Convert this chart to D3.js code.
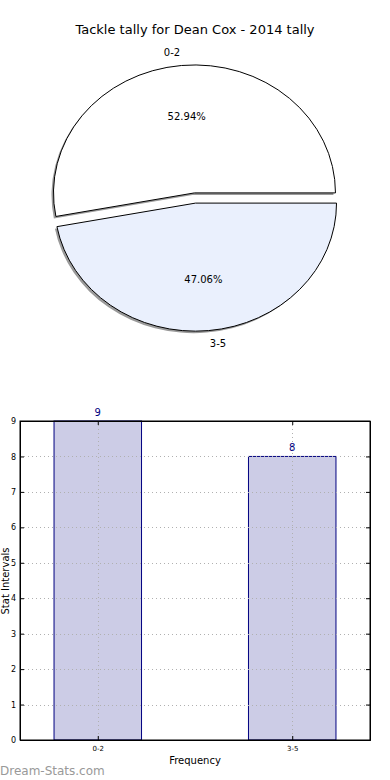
<!DOCTYPE html>
<html>
<head>
<meta charset="utf-8">
<script src="https://cdn.jsdelivr.net/npm/d3@7"></script>
<style>
  body { margin: 0; background: #fff; }
  svg { display: block; font-family: "DejaVu Sans", sans-serif; }
</style>
</head>
<body>
<svg width="390" height="780"></svg>
<script>
// Data
var categories = ["0-2", "3-5"];
var counts = [9, 8];
var yTicks = [0, 1, 2, 3, 4, 5, 6, 7, 8, 9];
var sliceColors = ["#ffffff", "#eaf0fd"];

var svg = d3.select("svg"),
  width = +svg.attr("width"),
  height = +svg.attr("height");

var total = d3.sum(counts);

// Title
svg.append("text")
  .attr("x", width / 2)
  .attr("y", 34)
  .attr("text-anchor", "middle")
  .style("font-size", "13px")
  .text("Tackle tally for Dean Cox - 2014 tally");

// Pie (squashed like the original axes)
var cx = 195, cy = 198, rx = 141, ry = 128, explode = 0.04;

// matplotlib starts at 3 o'clock and goes counter-clockwise
var pie = d3.pie().sort(null)
  .startAngle(Math.PI / 2)
  .endAngle(Math.PI / 2 - 2 * Math.PI);
var arcs = pie(counts);

var arc = d3.arc().innerRadius(0).outerRadius(1);
var labelArc = d3.arc().innerRadius(1.1).outerRadius(1.1);
var pctArc = d3.arc().innerRadius(0.6).outerRadius(0.6);
var offArc = d3.arc().innerRadius(explode).outerRadius(explode);

var pieG = svg.append("g").attr("transform", "translate(" + cx + "," + cy + ")");

function shift(d) {
  var c = offArc.centroid(d);
  return [c[0] * rx, c[1] * ry];
}

// shadows
pieG.selectAll("path.shadow")
  .data(arcs).enter().append("path")
  .attr("class", "shadow")
  .attr("d", arc)
  .attr("transform", function (d) {
    var s = shift(d);
    return "translate(" + (s[0] - 2) + "," + (s[1] + 2) + ") scale(" + rx + "," + ry + ")";
  })
  .attr("fill", "#9a9a9a");

pieG.selectAll("path.slice")
  .data(arcs).enter().append("path")
  .attr("class", "slice")
  .attr("d", arc)
  .attr("transform", function (d) {
    var s = shift(d);
    return "translate(" + s[0] + "," + s[1] + ") scale(" + rx + "," + ry + ")";
  })
  .attr("fill", function (d, i) { return sliceColors[i]; })
  .attr("stroke", "#000")
  .attr("stroke-width", 1)
  .attr("vector-effect", "non-scaling-stroke");

// slice labels
pieG.selectAll("text.lab")
  .data(arcs).enter().append("text")
  .attr("class", "lab")
  .each(function (d, i) {
    var s = shift(d), c = labelArc.centroid(d);
    d3.select(this)
      .attr("x", s[0] + c[0] * rx)
      .attr("y", s[1] + c[1] * ry)
      .attr("dy", "0.35em")
      .attr("text-anchor", c[0] < 0 ? "end" : "start");
  })
  .style("font-size", "10px")
  .text(function (d, i) { return categories[i]; });

pieG.selectAll("text.pct")
  .data(arcs).enter().append("text")
  .attr("class", "pct")
  .each(function (d) {
    var s = shift(d), c = pctArc.centroid(d);
    d3.select(this)
      .attr("x", s[0] + c[0] * rx)
      .attr("y", s[1] + c[1] * ry)
      .attr("dy", "0.35em")
      .attr("text-anchor", "middle");
  })
  .style("font-size", "10px")
  .text(function (d) { return (d.value / total * 100).toFixed(2) + "%"; });

// Bar chart
var plotL = 20, plotR = 370, plotT = 421, plotB = 740;
var x = d3.scaleLinear().domain([-0.4, 1.4]).range([plotL, plotR]);
var y = d3.scaleLinear().domain([0, 9]).range([plotB, plotT]);
var barW = 0.45;

var barG = svg.append("g");

barG.selectAll("rect.bar")
  .data(counts).enter().append("rect")
  .attr("class", "bar")
  .attr("x", function (d, i) { return x(i - barW / 2); })
  .attr("width", x(barW) - x(0))
  .attr("y", function (d) { return y(d); })
  .attr("height", function (d) { return y(0) - y(d); })
  .attr("fill", "#ccccE6")
  .attr("stroke", "#000080")
  .attr("stroke-width", 1);

// grid (drawn above bars)
barG.selectAll("line.hgrid")
  .data(yTicks).enter().append("line")
  .attr("x1", plotL).attr("x2", plotR)
  .attr("y1", function (d) { return Math.round(y(d)) + 0.5; })
  .attr("y2", function (d) { return Math.round(y(d)) + 0.5; })
  .attr("stroke", "#b0b0b0")
  .attr("stroke-dasharray", "1,3");

barG.selectAll("line.vgrid")
  .data(categories).enter().append("line")
  .attr("x1", function (d, i) { return Math.round(x(i)) + 0.5; })
  .attr("x2", function (d, i) { return Math.round(x(i)) + 0.5; })
  .attr("y1", plotT).attr("y2", plotB)
  .attr("stroke", "#b0b0b0")
  .attr("stroke-dasharray", "1,3");

// value labels
barG.selectAll("text.val")
  .data(counts).enter().append("text")
  .attr("x", function (d, i) { return x(i); })
  .attr("y", function (d) { return y(d) - 5; })
  .attr("text-anchor", "middle")
  .attr("fill", "#000080")
  .style("font-size", "10px")
  .text(function (d) { return d; });

// axes (ticks inward)
var yAxis = d3.axisLeft(y).tickValues(yTicks).tickSize(-4).tickPadding(4);
var yAxisR = d3.axisRight(y).tickValues(yTicks).tickSize(-4).tickFormat("");
var xAxis = d3.axisBottom(x).tickValues([0, 1]).tickSize(-4).tickPadding(6)
  .tickFormat(function (d) { return categories[d]; });
var xAxisT = d3.axisTop(x).tickValues([0, 1]).tickSize(-4).tickFormat("");

svg.append("g").attr("transform", "translate(" + plotL + ",0)").call(yAxis)
  .call(function (g) { g.selectAll("text").style("font-size", "8px").style("font-family", "DejaVu Sans"); });
svg.append("g").attr("transform", "translate(" + plotR + ",0)").call(yAxisR);
svg.append("g").attr("transform", "translate(0," + plotB + ")").call(xAxis)
  .call(function (g) { g.selectAll("text").style("font-size", "7px").style("font-family", "DejaVu Sans"); });
svg.append("g").attr("transform", "translate(0," + plotT + ")").call(xAxisT);

svg.selectAll(".domain").attr("stroke", "#000");

// frame
svg.append("rect")
  .attr("x", plotL).attr("y", plotT)
  .attr("width", plotR - plotL).attr("height", plotB - plotT)
  .attr("fill", "none").attr("stroke", "#000");

// axis labels
svg.append("text")
  .attr("x", (plotL + plotR) / 2)
  .attr("y", 764)
  .attr("text-anchor", "middle")
  .style("font-size", "10px")
  .text("Frequency");

svg.append("text")
  .attr("transform", "translate(9," + 581 + ") rotate(-90)")
  .attr("text-anchor", "middle")
  .style("font-size", "10px")
  .text("Stat Intervals");

// watermark
svg.append("text")
  .attr("x", 0)
  .attr("y", 775)
  .attr("fill", "#999")
  .style("font-size", "12px")
  .text("Dream-Stats.com");
</script>
</body>
</html>
